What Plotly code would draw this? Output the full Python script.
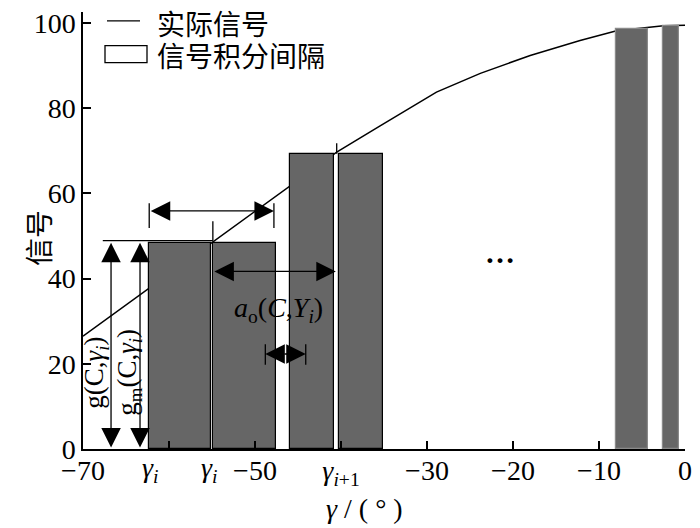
import plotly.graph_objects as go

# ---------------- data ----------------
curve_x = [-70, -40.5, -35.5, -29.6, -28.9, -23.8, -18.0, -12.2, -7.95, -2.5, 0]
curve_y = [26.5, 69.7, 75.8, 83.0, 83.8, 88.2, 92.4, 95.9, 98.2, 99.4, 99.5]

bar_left = [-62.3, -54.9, -45.9, -40.2, -8.02, -2.55]
bar_right = [-55.15, -47.6, -40.8, -35.1, -4.27, -0.69]
bar_height = [48.4, 48.4, 69.3, 69.3, 98.6, 99.4]
bar_edge = ["black", "black", "black", "black", "#8a8a8a", "#8a8a8a"]

x_tickvals = [-70, -60, -50, -40, -30, -20, -10, 0]
x_ticktext = ["\u221270", "", "\u221250", "<i>γ</i><sub><i>i</i>+1</sub>",
              "\u221230", "\u221220", "\u221210", "0"]
y_tickvals = [0, 20, 40, 60, 80, 100]

SERIF = "Liberation Serif"
CJK = "Noto Sans CJK SC"

X_RANGE = [-70, 0]
Y_RANGE = [0, 102.6]

centers = [(l + r) / 2 for l, r in zip(bar_left, bar_right)]
widths = [r - l for l, r in zip(bar_left, bar_right)]

fig = go.Figure()
# curve on the base axes (drawn beneath the overlay that holds the bars)
fig.add_trace(go.Scatter(x=curve_x, y=curve_y, mode="lines", xaxis="x", yaxis="y",
                         line=dict(color="black", width=1.5), showlegend=False,
                         hoverinfo="skip"))
fig.add_trace(go.Bar(x=centers, y=bar_height, width=widths, xaxis="x2", yaxis="y2",
                     marker=dict(color="#666666", line=dict(color=bar_edge, width=1.2)),
                     showlegend=False))

annotations = []
shapes = []

def arrow(x0, y0, x1, y1, both=True, size=3.0):
    annotations.append(dict(x=x1, y=y1, ax=x0, ay=y0, xref="x", yref="y",
                            axref="x", ayref="y", text="", showarrow=True,
                            arrowhead=2, startarrowhead=2,
                            arrowside="end+start" if both else "end",
                            arrowsize=size, startarrowsize=size, arrowwidth=1.3,
                            arrowcolor="black", standoff=0, startstandoff=0))

def seg(x0, y0, x1, y1):
    shapes.append(dict(type="line", xref="x", yref="y", x0=x0, y0=y0, x1=x1, y1=y1,
                       line=dict(color="black", width=1.3)))

h1 = bar_height[0]
# vertical double arrows g(C,γi), gm(C,γi)
arrow(-66.74, 0, -66.74, h1)
arrow(-63.37, 0, -63.37, h1)
seg(-67.7, 48.9, bar_left[1], 48.9)
# top interval arrow
arrow(bar_left[0], 55.9, -47.8, 55.9)
seg(bar_left[0], 51.9, bar_left[0], 57.7)
seg(-47.8, 51.9, -47.8, 57.7)
seg(bar_left[1], 48.9, bar_left[1], 53.5)
seg(-40.5, 69.3, -40.5, 71.8)
# a_o arrow
arrow(bar_left[1], 41.7, -40.6, 41.7)
# small gap arrow |<>|
gap_c = (bar_right[1] + bar_left[2]) / 2
arrow(gap_c, 22.3, -48.8, 22.3, both=False, size=3.0)
arrow(gap_c, 22.3, -44.1, 22.3, both=False, size=3.0)
seg(-48.8, 19.8, -48.8, 24.6)
seg(-44.1, 19.8, -44.1, 24.6)

# paper-coordinate helpers (plot area spans page x 83..685, page y 8..449)
def px(xp):
    return (xp - 83) / 602

def py(yp):
    return (449 - yp) / 441

annotations += [
    dict(x=-68.5, y=17.9, xref="x", yref="y", text="g(C,<i>γ</i><sub><i>i</i></sub>)",
         textangle=-90, showarrow=False, font=dict(family=SERIF, size=27, color="black")),
    dict(x=-64.65, y=17.9, xref="x", yref="y", text="g<sub>m</sub>(C,<i>γ</i><sub><i>i</i></sub>)",
         textangle=-90, showarrow=False, font=dict(family=SERIF, size=27, color="black")),
    dict(x=-47.3, y=32.7, xref="x", yref="y",
         text="<i>a</i><sub>o</sub>(<i>C</i>,<i>Y</i><sub><i>i</i></sub>)",
         showarrow=False, font=dict(family=SERIF, size=28, color="black")),
    dict(x=-21.5, y=46.2, xref="x", yref="y", text="<b>…</b>", showarrow=False,
         font=dict(family=SERIF, size=30, color="black")),
    dict(x=-62.2, y=0, xref="x", yref="paper", yshift=-20, yanchor="middle",
         text="<i>γ<sub>i</sub></i>", showarrow=False,
         font=dict(family=SERIF, size=28, color="black")),
    dict(x=-55.3, y=0, xref="x", yref="paper", yshift=-20, yanchor="middle",
         text="<i>γ<sub>i</sub></i>", showarrow=False,
         font=dict(family=SERIF, size=28, color="black")),
    dict(x=px(364), y=py(509), xref="paper", yref="paper", yanchor="middle",
         text="<i>γ</i> / ( ° )", showarrow=False,
         font=dict(family=SERIF, size=28, color="black")),
    dict(x=0, y=py(236), xref="paper", yref="paper", xshift=-67, textangle=-90,
         text="信号", showarrow=False, font=dict(family=CJK, size=28, color="black")),
    dict(x=px(155), y=py(19), xref="paper", yref="paper",
         xanchor="left", yanchor="middle", text="实际信号", showarrow=False,
         font=dict(family=CJK, size=28, color="black")),
    dict(x=px(155), y=py(51), xref="paper", yref="paper",
         xanchor="left", yanchor="middle", text="信号积分间隔", showarrow=False,
         font=dict(family=CJK, size=28, color="black")),
]
shapes += [
    dict(type="line", xref="paper", yref="paper", x0=px(107), x1=px(140),
         y0=py(17), y1=py(17), line=dict(color="black", width=1.3)),
    dict(type="rect", xref="paper", yref="paper", x0=px(105), x1=px(147),
         y0=py(59), y1=py(42), line=dict(color="black", width=1.3),
         fillcolor="white"),
]

axis_style = dict(showline=True, linecolor="black", linewidth=1.5, ticks="inside",
                  ticklen=8, tickwidth=1.5, tickcolor="black", showgrid=False,
                  zeroline=False, ticklabeloverflow="allow",
                  tickfont=dict(family=SERIF, size=28, color="black"))

fig.update_layout(
    width=700, height=528, margin=dict(l=75, r=23, t=0, b=87),
    paper_bgcolor="white", plot_bgcolor="white",
    font=dict(family=SERIF, size=28, color="black"),
    showlegend=False, bargap=0,
    annotations=annotations, shapes=shapes,
    xaxis=dict(range=X_RANGE, visible=False),
    yaxis=dict(range=Y_RANGE, visible=False),
    xaxis2=dict(range=X_RANGE, overlaying="x", anchor="y2", side="bottom",
                tickvals=x_tickvals, ticktext=x_ticktext, ticklabelstandoff=-4,
                **axis_style),
    yaxis2=dict(range=Y_RANGE, overlaying="y", anchor="x2", side="left",
                tickvals=y_tickvals, **axis_style),
)

fig.write_html("out.html")
